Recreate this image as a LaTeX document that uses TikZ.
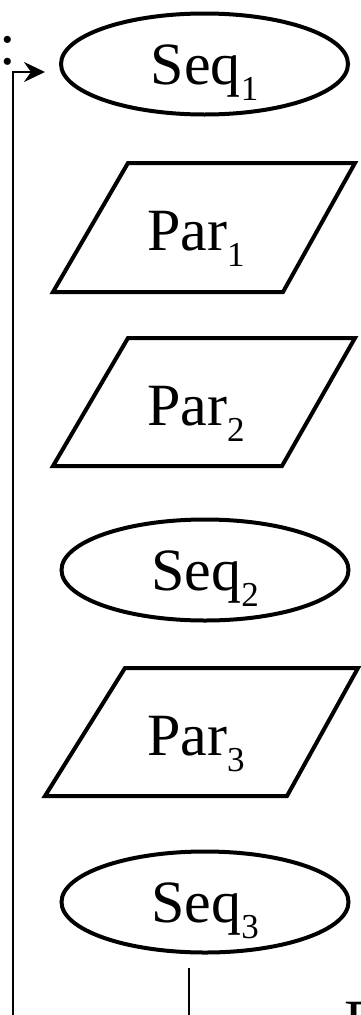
\documentclass[tikz,border=0pt]{standalone}
\usepackage{fontspec}
\setmainfont{Liberation Serif}
\usetikzlibrary{shapes.geometric,arrows.meta}
% lowered, smaller index after a block name
\newcommand\subidx[1]{\raisebox{-16pt}{\fontsize{35}{35}\selectfont #1}}

\begin{document}
\begin{tikzpicture}[x=1pt,y=-1pt,
  outline/.style={line width=4pt, line join=miter},
  wire/.style={line width=2pt},
  bigfont/.style={font=\fontsize{60}{62}\selectfont},
  seqbox/.style={ellipse, draw, outline, bigfont, minimum width=287pt,
    minimum height=101pt, inner sep=0pt, text height=40pt, text depth=0pt},
  partext/.style={bigfont, inner sep=0pt, text height=46pt, text depth=0pt},
  loophead/.style={-{Stealth[length=21pt 0 0, width=20pt 0 0, inset=7pt 0]}},
]
\useasboundingbox (0,0) rectangle (360,1015);

% sequential blocks
\node[seqbox] (seq1) at (204.5,64) {Seq\subidx{1}};
\node[seqbox] (seq2) at (205,570) {Seq\subidx{2}};
\node[seqbox] (seq3) at (205,902) {Seq\subidx{3}};

% parallel blocks: label nodes plus slanted outlines
\node[partext] (par1) at (196,227) {Par\subidx{1}};
\draw[outline] (128,163) -- (355,163) -- (283,292) -- (53,292) -- cycle;
\node[partext] (par2) at (196,402) {Par\subidx{2}};
\draw[outline] (128,338) -- (355,338) -- (282,466) -- (53,466) -- cycle;
\node[partext] (par3) at (196,732) {Par\subidx{3}};
\draw[outline] (125,668) -- (358,668) -- (287,796) -- (45,796) -- cycle;

% side texts
\node[bigfont, anchor=base west, inner sep=0pt] (colon) at (-1,64) {:};
\node[bigfont, anchor=north west, inner sep=0pt] (fnote) at (344,1002) {F};

% feedback loop back into the first block
\coordinate (loopstart) at (13,1020);
\coordinate (looptip) at (45,72);
\draw[wire, loophead] (loopstart) |- (looptip);

% outgoing line below the last block
\coordinate (exittop) at (189,968);
\coordinate (exitbot) at (189,1020);
\draw[wire] (exittop) -- (exitbot);
\end{tikzpicture}
\end{document}
